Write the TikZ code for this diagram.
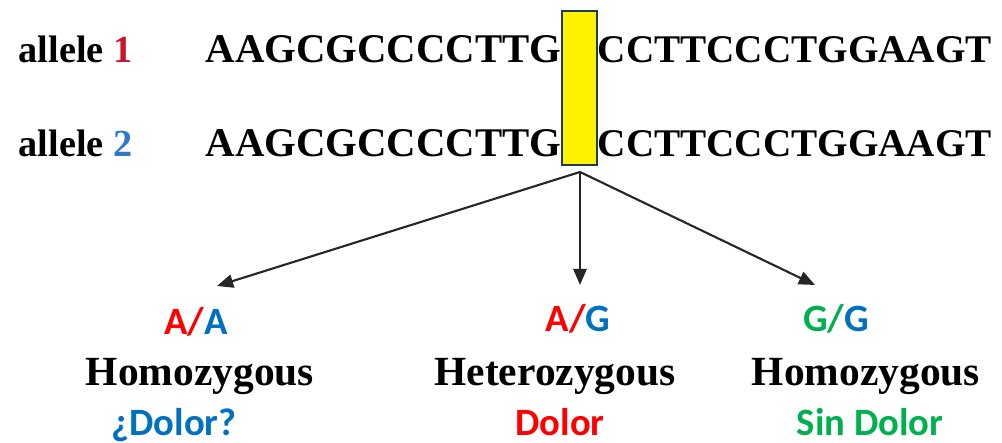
\documentclass[tikz,border=0pt]{standalone}
\usepackage{fontspec}
\setmainfont{Liberation Serif}
\newfontfamily\labelsans{Carlito}
\usetikzlibrary{arrows.meta}

\begin{document}
\begin{tikzpicture}[>={Triangle[length=4.6pt,width=3.8pt]},
  seqtext/.style={anchor=base west, inner sep=0pt, font=\fontsize{11.6}{14}\selectfont\bfseries},
  alleletext/.style={anchor=base west, inner sep=0pt, font=\fontsize{10.9}{13}\selectfont\bfseries},
  zygtext/.style={anchor=base, inner sep=0pt, font=\fontsize{11.8}{14}\selectfont\bfseries},
  gentext/.style={anchor=base, inner sep=0pt, font=\fontsize{11}{13}\selectfont\labelsans\bfseries},
  snpbox/.style={draw=snpborder, fill=yellow, line width=0.8pt, inner sep=0pt,
    minimum width=0.35cm, minimum height=1.54cm},
  branch/.style={->, line width=0.6pt, draw=black!85}]

\definecolor{onecolor}{RGB}{200, 20, 45}
\definecolor{twocolor}{RGB}{45, 120, 200}
\definecolor{redA}{RGB}{255, 0, 0}
\definecolor{blueG}{RGB}{0, 112, 192}
\definecolor{greenG}{RGB}{0, 176, 80}
\definecolor{snpborder}{RGB}{32, 56, 100}

\useasboundingbox (0,0) rectangle (10.02,-4.43);

% the two alleles
\node[alleletext] (allele1) at (0.18,-0.63) {allele \textcolor{onecolor}{1}};
\node[alleletext] (allele2) at (0.18,-1.57) {allele \textcolor{twocolor}{2}};

\node[seqtext] (left1) at (2.05,-0.63) {AAGCGCCCCTTG};
\node[seqtext, font=\fontsize{11.15}{14}\selectfont\bfseries] (right1) at (5.97,-0.63) {CCTTCCCTGGAAGT};
\node[seqtext] (left2) at (2.05,-1.57) {AAGCGCCCCTTG};
\node[seqtext, font=\fontsize{11.15}{14}\selectfont\bfseries] (right2) at (5.97,-1.57) {CCTTCCCTGGAAGT};

% SNP position
\node[snpbox] (snp) at (5.795,-0.88) {};

% branches to the genotypes
\coordinate (fork) at (5.80,-1.72);
\coordinate (tipAA) at (2.17,-2.86);
\coordinate (tipAG) at (5.80,-2.85);
\coordinate (tipGG) at (8.15,-2.85);
\draw[branch] (fork) -- (tipAA);
\draw[branch] (fork) -- (tipAG);
\draw[branch] (fork) -- (tipGG);

% genotypes
\node[gentext] (AA) at (1.96,-3.35) {\textcolor{redA}{A/}\textcolor{blueG}{A}};
\node[gentext] (AG) at (5.78,-3.32) {\textcolor{redA}{A/}\textcolor{blueG}{G}};
\node[gentext] (GG) at (8.36,-3.32) {\textcolor{greenG}{G/}\textcolor{blueG}{G}};

\node[zygtext] (homoAA) at (2.00,-3.86) {Homozygous};
\node[zygtext] (hetero) at (5.55,-3.86) {Heterozygous};
\node[zygtext] (homoGG) at (8.66,-3.86) {Homozygous};

% pain phenotype
\node[gentext, blueG] (painAA) at (1.74,-4.36) {¿Dolor?};
\node[gentext, redA] (painAG) at (5.60,-4.36) {Dolor};
\node[gentext, greenG] (painGG) at (8.70,-4.36) {Sin Dolor};

\end{tikzpicture}
\end{document}
